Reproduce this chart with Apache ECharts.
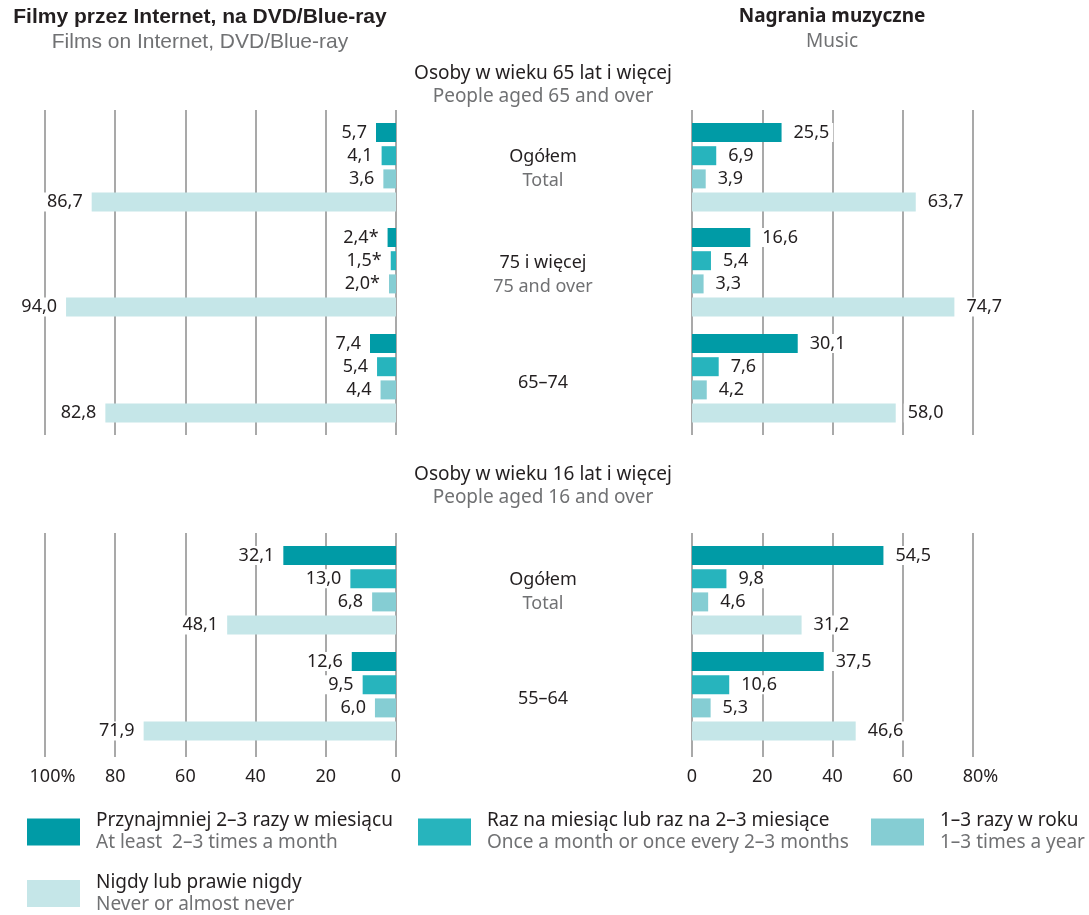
<!DOCTYPE html>
<html>
<head>
<meta charset="utf-8">
<script src="https://cdn.jsdelivr.net/npm/echarts@6/dist/echarts.min.js"></script>
<style>
    html, body { margin: 0; padding: 0; background: #fff; }
    #chart { width: 1089px; height: 915px; }
</style>
</head>
<body>
<div id="chart"></div>
<script>
// kategorie częstotliwości (legenda)
const frequencies = ['Przynajmniej 2–3 razy w miesiącu', 'Raz na miesiąc lub raz na 2–3 miesiące', '1–3 razy w roku', 'Nigdy lub prawie nigdy'];
const frequenciesEn = ['At least  2–3 times a month', 'Once a month or once every 2–3 months', '1–3 times a year', 'Never or almost never'];

// osoby w wieku 65 lat i więcej
const groups65 = ['Ogółem', '75 i więcej', '65–74'];
const groups65En = ['Total', '75 and over', ''];
const films65Total = [5.7, 4.1, 3.6, 86.7];
const films75Plus = [2.4, 1.5, 2.0, 94.0];
const films65to74 = [7.4, 5.4, 4.4, 82.8];
const music65Total = [25.5, 6.9, 3.9, 63.7];
const music75Plus = [16.6, 5.4, 3.3, 74.7];
const music65to74 = [30.1, 7.6, 4.2, 58.0];
const films75PlusNote = ['*', '*', '*', ''];   // dane o ograniczonej precyzji

// osoby w wieku 16 lat i więcej
const groups16 = ['Ogółem', '55–64'];
const groups16En = ['Total', ''];
const films16Total = [32.1, 13.0, 6.8, 48.1];
const films55to64 = [12.6, 9.5, 6.0, 71.9];
const music16Total = [54.5, 9.8, 4.6, 31.2];
const music55to64 = [37.5, 10.6, 5.3, 46.6];

// osie
const filmsTicks = ['0', '20', '40', '60', '80', '100%'];
const musicTicks = ['0', '20', '40', '60', '80%'];

const colors = ['#009ba6', '#27b4bd', '#85cdd3', '#c5e6e8'];
const dark = '#231f20';
const grey = '#707173';
const font = 'Noto Sans';

const option = {
    animation: false,
    backgroundColor: '#fff',
    grid: [], xAxis: [], yAxis: [], series: [], title: [], legend: []
};

const sides = {
    films: { left: 45, width: 351, max: 100, inverse: true, ticks: filmsTicks, labelPos: 'left', distance: 5 },
    music: { left: 692, width: 281, max: 80, inverse: false, ticks: musicTicks, labelPos: 'right', distance: 8 }
};

const fmt = v => v.toFixed(1).replace('.', ',');

// tło z liniami siatki i etykietami osi
function addBackground(side, top, height, showLabels) {
    const s = sides[side];
    const idx = option.grid.length;
    option.grid.push({ left: s.left, width: s.width, top: top, height: height });
    option.xAxis.push({
        type: 'value', gridIndex: idx, min: 0, max: s.max, interval: 20, inverse: s.inverse,
        axisLine: { show: false }, axisTick: { show: false },
        splitLine: { show: true, lineStyle: { color: '#8c8c8c', width: 1.5 } },
        axisLabel: {
            show: showLabels, margin: 11, color: dark, fontFamily: font, fontSize: 18,
            formatter: v => {
                const t = s.ticks[v / 20];
                return t.endsWith('%') ? '{pad| }' + t : t;
            },
            rich: { pad: { width: 15 } }
        }
    });
    option.yAxis.push({ type: 'category', gridIndex: idx, data: [''], show: false });
}

// jedna grupa: cztery słupki
function addGroup(side, top, values, notes) {
    const s = sides[side];
    const idx = option.grid.length;
    option.grid.push({ left: s.left, width: s.width, top: top, height: 92.8 });
    option.xAxis.push({ type: 'value', gridIndex: idx, min: 0, max: s.max, inverse: s.inverse, show: false, splitLine: { show: false } });
    option.yAxis.push({ type: 'category', gridIndex: idx, data: ['0', '1', '2', '3'], inverse: true, show: false });
    values.forEach((v, k) => {
        option.series.push({
            name: frequencies[k],
            type: 'bar',
            xAxisIndex: idx,
            yAxisIndex: idx,
            barWidth: 19,
            barGap: '-100%',
            itemStyle: { color: colors[k] },
            data: [[v, k]],
            label: {
                show: true,
                position: s.labelPos,
                distance: s.distance,
                color: dark,
                fontFamily: font,
                fontSize: 18,
                lineHeight: 19,
                backgroundColor: '#fff',
                padding: [0, 4],
                formatter: p => fmt(p.value[0]) + (notes ? notes[k] : '')
            }
        });
    });
}

// 65+
addBackground('films', 110, 325, false);
addBackground('music', 110, 325, false);
addGroup('films', 120.9, films65Total);
addGroup('films', 225.9, films75Plus, films75PlusNote);
addGroup('films', 331.9, films65to74);
addGroup('music', 120.9, music65Total);
addGroup('music', 225.9, music75Plus);
addGroup('music', 331.9, music65to74);

// 16+
addBackground('films', 533, 224, true);
addBackground('music', 533, 224, true);
addGroup('films', 543.9, films16Total);
addGroup('films', 649.9, films55to64);
addGroup('music', 543.9, music16Total);
addGroup('music', 649.9, music55to64);

// tytuły
function addTitle(text, subtext, x, top, gap, size, family, weight) {
    const lh = size + 2;
    option.title.push({
        text: text, subtext: subtext, left: x, top: top, textAlign: 'center', padding: 0, itemGap: gap,
        textStyle: { fontFamily: family || font, fontWeight: weight || 'normal', fontSize: size, lineHeight: lh, color: dark },
        subtextStyle: { fontFamily: family || font, fontSize: size, lineHeight: lh, color: grey }
    });
}
addTitle('Filmy przez Internet, na DVD/Blue-ray', 'Films on Internet, DVD/Blue-ray', 200, 6, 2, 21, 'Liberation Sans', 'bold');
addTitle('Nagrania muzyczne', 'Music', 832, 6, 4, 19, font, 'bold');
addTitle('Osoby w wieku 65 lat i więcej', 'People aged 65 and over', 543, 63, 2, 19);
addTitle('Osoby w wieku 16 lat i więcej', 'People aged 16 and over', 543, 464, 2, 19);

const groups65Tops = [147, 253, 373];
groups65.forEach((g, i) => addTitle(g, groups65En[i], 543, groups65Tops[i], 4, 18));
const groups16Tops = [570, 689];
groups16.forEach((g, i) => addTitle(g, groups16En[i], 543, groups16Tops[i], 4, 18));

// legenda
const legendLefts = [27, 418, 871, 27];
const legendTops = [811.5, 811.5, 811.5, 873];
frequencies.forEach((name, k) => {
    option.legend.push({
        data: [name],
        left: legendLefts[k],
        top: legendTops[k],
        padding: 0,
        selectedMode: false,
        icon: 'rect',
        itemWidth: 53,
        itemHeight: 27,
        formatter: n => '{a|' + n + '}\n{b|' + frequenciesEn[k] + '}',
        textStyle: {
            rich: {
                a: { fontFamily: font, fontSize: 19, lineHeight: 22, color: dark, padding: [0, 0, 0, 11] },
                b: { fontFamily: font, fontSize: 19, lineHeight: 22, color: grey, padding: [0, 0, 0, 11] }
            }
        }
    });
});

const chart = echarts.init(document.getElementById('chart'));
chart.setOption(option);
</script>
</body>
</html>
